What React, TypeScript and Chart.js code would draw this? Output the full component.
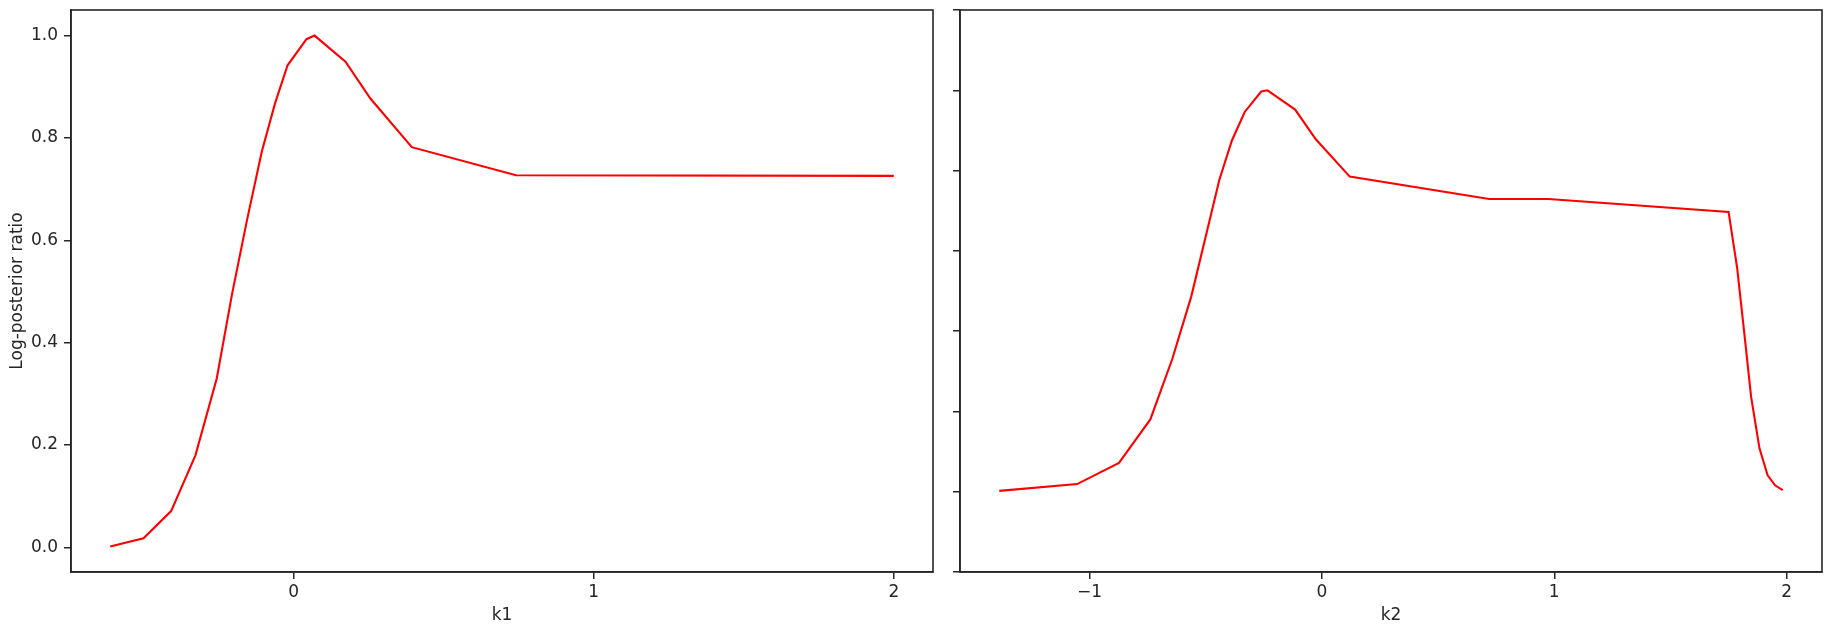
import React, { useEffect, useRef } from "react";
import { Chart, registerables } from "chart.js";

Chart.register(...registerables);

// ---- data ----
const K1 = [-0.611, -0.5, -0.408, -0.327, -0.256, -0.205, -0.155, -0.106, -0.062, -0.02, 0.043, 0.07, 0.173, 0.256, 0.394, 0.741, 2.0];
const LPR1 = [0.002, 0.018, 0.071, 0.18, 0.33, 0.495, 0.64, 0.773, 0.867, 0.942, 0.993, 1.0, 0.949, 0.877, 0.782, 0.727, 0.726];

const K2 = [-1.388, -1.053, -0.873, -0.738, -0.644, -0.562, -0.5, -0.441, -0.387, -0.332, -0.261, -0.234, -0.115, -0.026, 0.12, 0.72, 0.975, 1.75, 1.787, 1.818, 1.847, 1.883, 1.918, 1.95, 1.983];
const LPR2 = [0.002, 0.019, 0.072, 0.18, 0.33, 0.486, 0.635, 0.777, 0.875, 0.946, 0.997, 1.0, 0.952, 0.878, 0.785, 0.729, 0.729, 0.697, 0.557, 0.393, 0.236, 0.108, 0.041, 0.016, 0.004];

const K1_TICKS = [0, 1, 2];
const K2_TICKS = [-1, 0, 1, 2];
const Y1_TICKS = [0, 0.2, 0.4, 0.6, 0.8, 1.0];
const Y2_TICKS = [-0.2, 0, 0.2, 0.4, 0.6, 0.8, 1.0, 1.2];

const INK = "#262626";
const FONT = { family: "'DejaVu Sans', sans-serif", size: 17 };

const framePlugin = {
  id: "frame",
  afterDraw(chart: any) {
    const { ctx, chartArea } = chart;
    ctx.save();
    ctx.strokeStyle = INK;
    ctx.lineWidth = 1.6;
    ctx.strokeRect(chartArea.left, chartArea.top, chartArea.right - chartArea.left, chartArea.bottom - chartArea.top);
    ctx.restore();
  },
};

const fmtInt = (v: number) => (v < 0 ? "\u2212" + Math.abs(v) : String(v));

function Panel(props: {
  xs: number[]; ys: number[]; xTicks: number[]; yTicks: number[];
  xMin: number; xMax: number; yMin: number; yMax: number;
  xTitle: string; yTitle: string; yLabels: boolean; yAxisWidth: number;
  width: number; left: number;
}) {
  const ref = useRef<HTMLCanvasElement>(null);
  useEffect(() => {
    const p = props;
    const chart = new Chart(ref.current!, {
      type: "line",
      data: {
        datasets: [
          {
            data: p.xs.map((x, i) => ({ x, y: p.ys[i] })),
            borderColor: "#ff0000",
            borderWidth: 2.1,
            pointRadius: 0,
            fill: false,
            tension: 0,
          },
        ],
      },
      options: {
        animation: false,
        responsive: false,
        layout: { padding: { left: 0, top: 10, right: 12, bottom: 0 } },
        plugins: { legend: { display: false }, tooltip: { enabled: false } },
        scales: {
          x: {
            type: "linear",
            min: p.xMin,
            max: p.xMax,
            afterBuildTicks: (s: any) => {
              s.ticks = p.xTicks.map((v) => ({ value: v }));
            },
            afterFit: (s: any) => {
              s.height = 62;
              s.paddingLeft = 0;
              s.paddingRight = 0;
            },
            ticks: {
              callback: (v: any) => fmtInt(Number(v)),
              font: FONT,
              color: INK,
              padding: 3,
              maxRotation: 0,
              autoSkip: false,
            },
            grid: { drawOnChartArea: false, drawTicks: true, tickLength: 7, color: INK, lineWidth: 1.5 },
            border: { display: true, color: INK, width: 1.6 },
            title: { display: true, text: p.xTitle, font: FONT, color: INK, padding: { top: 0, bottom: 8 } },
          },
          y: {
            type: "linear",
            min: p.yMin,
            max: p.yMax,
            afterBuildTicks: (s: any) => {
              s.ticks = p.yTicks.map((v) => ({ value: v }));
            },
            afterFit: (s: any) => {
              s.width = p.yAxisWidth;
              s.paddingTop = 0;
              s.paddingBottom = 0;
            },
            ticks: {
              callback: (v: any) => (p.yLabels ? Number(v).toFixed(1) : ""),
              font: FONT,
              color: INK,
              padding: 6,
              autoSkip: false,
            },
            grid: { drawOnChartArea: false, drawTicks: true, tickLength: 7, color: INK, lineWidth: 1.5 },
            border: { display: true, color: INK, width: 1.6 },
            title: {
              display: p.yTitle !== "",
              text: p.yTitle,
              font: FONT,
              color: INK,
              padding: { top: 7, bottom: 0 },
            },
          },
        },
      },
      plugins: [framePlugin],
    } as any);
    return () => chart.destroy();
  }, []);
  return (
    <canvas
      ref={ref}
      width={props.width}
      height={634}
      style={{ position: "absolute", left: props.left, top: 0, width: props.width, height: 634 }}
    />
  );
}

export default function App() {
  return (
    <div style={{ position: "absolute", left: 0, top: 0, width: 1834, height: 634, background: "#fff" }}>
      <Panel
        xs={K1} ys={LPR1} xTicks={K1_TICKS} yTicks={Y1_TICKS}
        xMin={-0.7416} xMax={2.1306} yMin={-0.048} yMax={1.05}
        xTitle="k1" yTitle="Log-posterior ratio" yLabels={true} yAxisWidth={71}
        width={945} left={0}
      />
      <Panel
        xs={K2} ys={LPR2} xTicks={K2_TICKS} yTicks={Y2_TICKS}
        xMin={-1.557} xMax={2.152} yMin={-0.2} yMax={1.2}
        xTitle="k2" yTitle="" yLabels={false} yAxisWidth={15}
        width={889} left={945}
      />
    </div>
  );
}
